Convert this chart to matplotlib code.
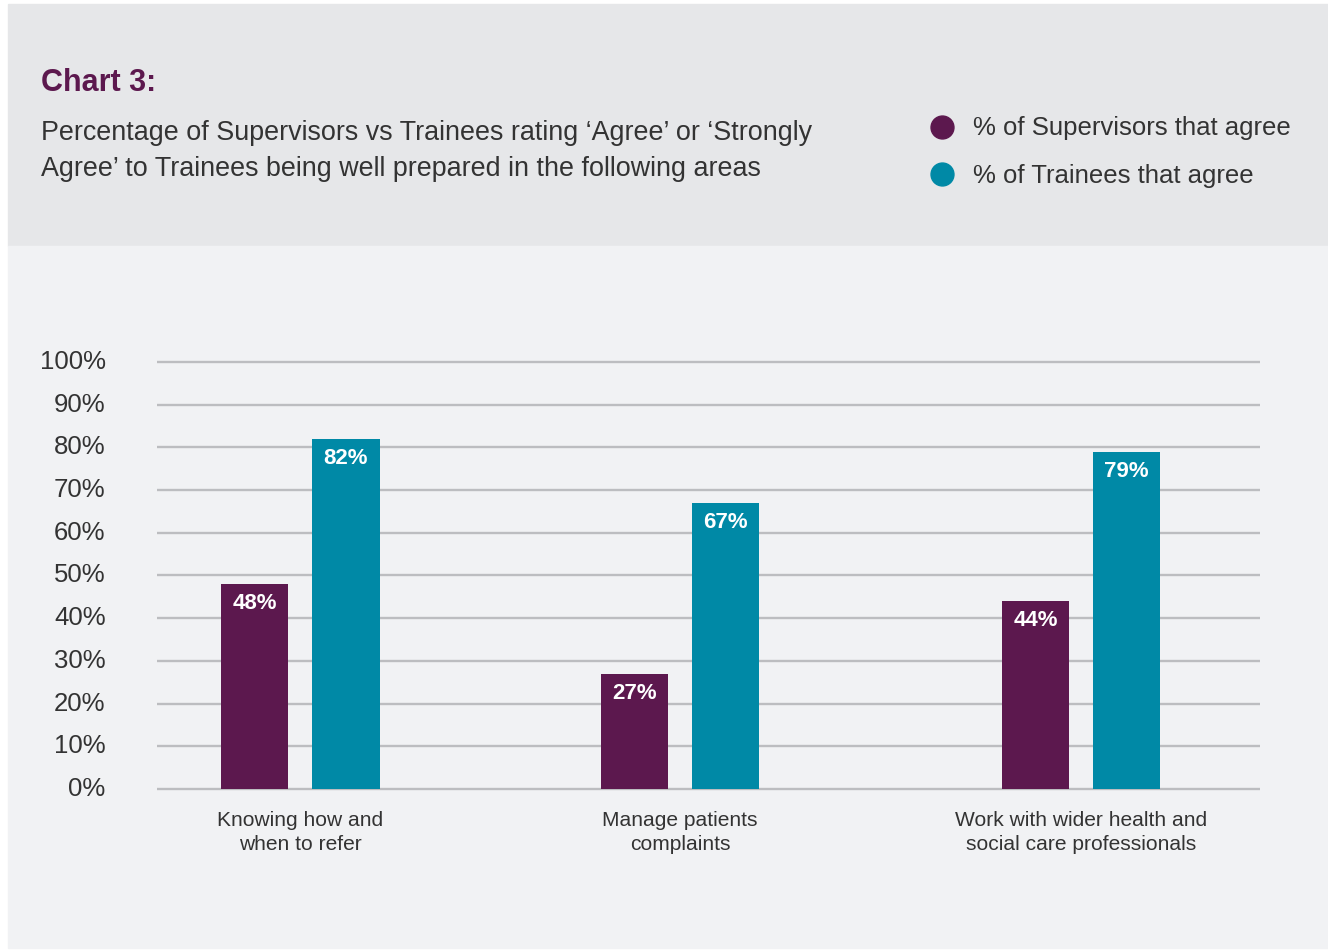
import matplotlib.pyplot as plt
from matplotlib.patches import Rectangle
from matplotlib.lines import Line2D
import numpy as np

plt.rcParams['font.family'] = ['Liberation Sans', 'DejaVu Sans']

# data
categories = ["Knowing how and\nwhen to refer",
              "Manage patients\ncomplaints",
              "Work with wider health and\nsocial care professionals"]
supervisors = [48, 27, 44]
trainees = [82, 67, 79]
series_names = ["% of Supervisors that agree", "% of Trainees that agree"]
y_ticks = list(range(0, 101, 10))

purple = "#5c184e"
teal = "#0089a6"
text_col = "#333333"

fig = plt.figure(figsize=(13.28, 9.5), dpi=100)
fig.patch.set_facecolor("white")

# background panels
fig.patches.append(Rectangle((8/1328, 1-246/950), 1-8/1328, 242/950,
                             transform=fig.transFigure, color="#e6e7e9", zorder=-10))
fig.patches.append(Rectangle((8/1328, 1-948/950), 1-8/1328, 702/950,
                             transform=fig.transFigure, color="#f1f2f4", zorder=-10))

# header texts
fig.text(41/1328, 1-91/950, "Chart 3:", fontsize=22, fontweight="bold",
         color=purple, va="baseline")
fig.text(41/1328, 1-140/950, "Percentage of Supervisors vs Trainees rating \u2018Agree\u2019 or \u2018Strongly",
         fontsize=19.4, color=text_col, va="baseline")
fig.text(41/1328, 1-176.5/950, "Agree\u2019 to Trainees being well prepared in the following areas",
         fontsize=19.4, color=text_col, va="baseline")

# legend
for i, (name, col) in enumerate(zip(series_names, [purple, teal])):
    cy = 126.7 + i * 47.6
    fig.add_artist(Line2D([941.5/1328], [1-cy/950], marker="o", markersize=16.5,
                          color=col, linestyle="none", transform=fig.transFigure))
    fig.text(973/1328, 1-(cy+8.5)/950, name, fontsize=18.5, color=text_col, va="baseline")

# bar chart
ax = fig.add_axes([157/1328, 1-793.3/950, 1103/1328, 435.6/950])
ax.set_facecolor("none")
ax.set_zorder(2)

x = np.array([0, 0.9725, 2.0])   # group centres (middle group sits a bit left)
w = 0.1717
off = 0.1166
b1 = ax.bar(x - off, supervisors, w, color=purple, zorder=3)
b2 = ax.bar(x + off, trainees, w, color=teal, zorder=3)

for bars, vals in [(b1, supervisors), (b2, trainees)]:
    for bar, v in zip(bars, vals):
        ax.annotate(f"{v}%", (bar.get_x() + bar.get_width()/2, v),
                    xytext=(0, -14), textcoords="offset points",
                    ha="center", va="center", color="white",
                    fontsize=16, fontweight="bold", zorder=4)

ax.set_xlim(-0.3677, 2.4587)
ax.set_ylim(-1, 101)
ax.set_yticks(y_ticks)
ax.set_yticklabels([f"{t}%" for t in y_ticks])
ax.set_xticks(x)
ax.set_xticklabels(categories, fontsize=15.1, color=text_col, linespacing=1.3)
ax.yaxis.grid(True, color="#bcbdc0", linewidth=1.7, zorder=0)
ax.set_axisbelow(True)
for s in ax.spines.values():
    s.set_visible(False)
ax.tick_params(axis="y", length=0, pad=37, labelsize=18.5, labelcolor=text_col)
ax.tick_params(axis="x", length=0, pad=13)
for lab in ax.get_yticklabels():
    lab.set_verticalalignment("center")

fig.savefig("out.png", dpi=100)
